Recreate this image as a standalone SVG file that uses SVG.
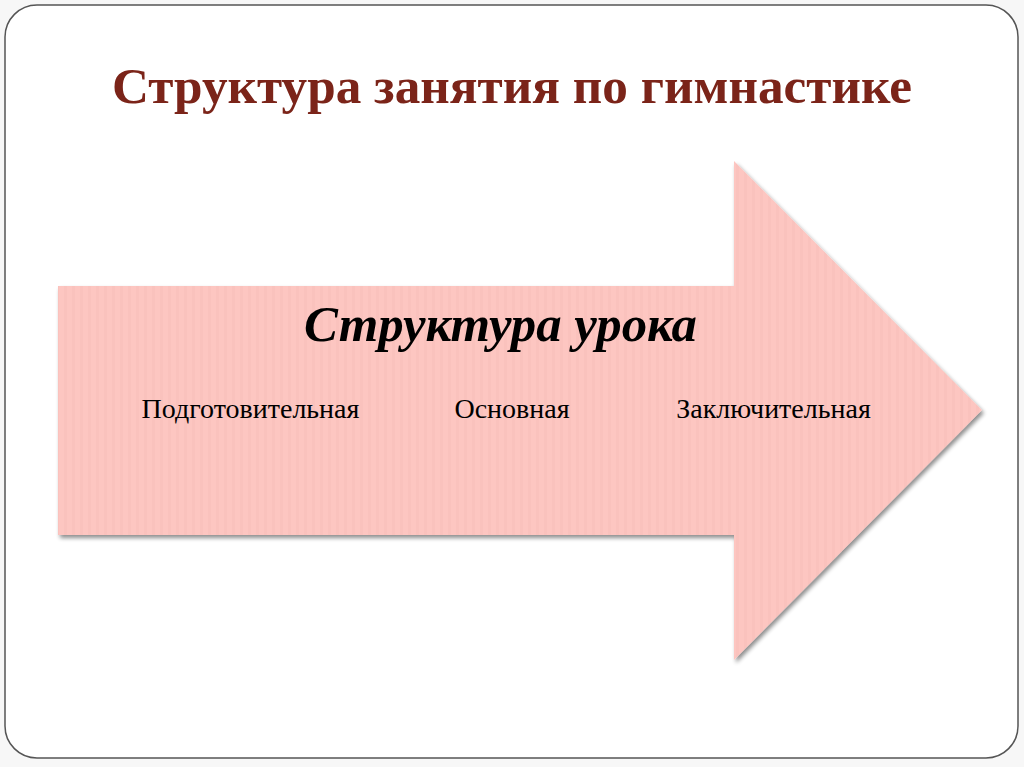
<svg xmlns="http://www.w3.org/2000/svg" width="1024" height="767" viewBox="0 0 1024 767">
<defs>
<style>
.title{font-family:"Liberation Serif","Times New Roman",serif;font-weight:bold;fill:#7b2419;text-anchor:middle}
.head{font-family:"Liberation Serif","Times New Roman",serif;font-weight:bold;font-style:italic;fill:#000;text-anchor:middle}
.lbl{font-family:"Liberation Serif","Times New Roman",serif;fill:#000;text-anchor:middle}
</style>
<pattern id="stripes" width="8" height="10" patternUnits="userSpaceOnUse">
<rect width="8" height="10" fill="#fdc6c1"/>
<rect x="0" width="3" height="10" fill="#fac2bd"/>
</pattern>
<filter id="shadow" x="-10%" y="-10%" width="120%" height="120%">
<feGaussianBlur in="SourceAlpha" stdDeviation="2"/>
<feOffset dx="2" dy="3"/>
<feComponentTransfer><feFuncA type="linear" slope="0.45"/></feComponentTransfer>
<feMerge><feMergeNode/><feMergeNode in="SourceGraphic"/></feMerge>
</filter>
</defs>
<rect width="1024" height="767" fill="#f7f7f7"/>
<rect x="5" y="5" width="1013" height="753" rx="32" ry="32" fill="#fff" stroke="#555" stroke-width="1.5"/>
<g id="title"><text class="title" x="512" y="103" font-size="50" textLength="800" lengthAdjust="spacingAndGlyphs">Структура занятия по гимнастике</text></g>
<g id="arrow">
<polygon points="58,286 734,286 734,161 982,410 734,660 734,535 58,535" fill="url(#stripes)" filter="url(#shadow)"/>
<text class="head" x="500.5" y="341" font-size="50" textLength="393" lengthAdjust="spacingAndGlyphs">Структура урока</text>
</g>
<g id="node-prep"><text class="lbl" x="250.5" y="418" font-size="28">Подготовительная</text></g>
<g id="node-main"><text class="lbl" x="512" y="418" font-size="28">Основная</text></g>
<g id="node-final"><text class="lbl" x="773.5" y="418" font-size="28">Заключительная</text></g>
<g id="connectors"></g>
</svg>
